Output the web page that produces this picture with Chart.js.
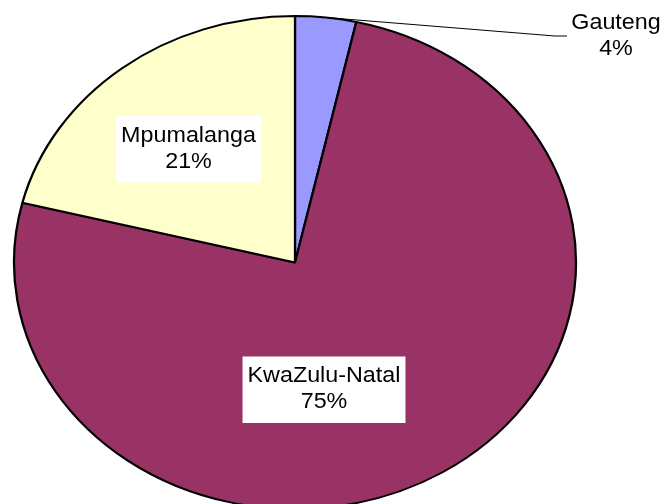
<!DOCTYPE html>
<html><head><meta charset="utf-8">
<script src="https://cdn.jsdelivr.net/npm/chart.js@4"></script>
<style>html,body{margin:0;padding:0;background:#fff;overflow:hidden}canvas{display:block}</style>
</head><body>
<canvas id="c" width="665" height="504"></canvas>
<script>
const categories = ["Gauteng", "KwaZulu-Natal", "Mpumalanga"];
const shares = [3.5, 75.4, 21.1];
const percentLabels = ["4%", "75%", "21%"];
const colors = ["#9999FF", "#993366", "#FFFFCC"];

const SX = 281 / 246.5;   // horizontal stretch of the pie into an ellipse
const TSX = 1.06;         // slight horizontal stretch of label text
const FONT = '22px "Liberation Sans", Arial, sans-serif';

// label placement (relative to pie centre)
const placement = [
  {dx: 321, dy: -234, box: false, leader: true},
  {dx: 29, dy: 119.5, box: true},
  {dx: -106.5, dy: -121, box: true}
];

const ellipsePlugin = {
  id: 'ellipse',
  beforeDatasetsDraw(chart) {
    const a = chart.getDatasetMeta(0).data[0];
    const ctx = chart.ctx;
    ctx.save();
    ctx.translate(a.x, 0);
    ctx.scale(SX, 1);
    ctx.translate(-a.x, 0);
  },
  afterDatasetsDraw(chart) { chart.ctx.restore(); }
};

const labelPlugin = {
  id: 'labels',
  afterDraw(chart) {
    const ctx = chart.ctx;
    const arcs = chart.getDatasetMeta(0).data;
    ctx.save();
    ctx.font = FONT;
    ctx.textAlign = 'center';
    ctx.textBaseline = 'alphabetic';
    arcs.forEach((arc, i) => {
      const p = placement[i];
      const cx = arc.x + p.dx;
      const b1 = arc.y + p.dy;
      const b2 = b1 + 26;
      const lines = [categories[i], percentLabels[i]];
      if (p.leader) {
        const mid = (arc.startAngle + arc.endAngle) / 2;
        const r = arc.outerRadius;
        ctx.beginPath();
        ctx.moveTo(arc.x + SX * r * Math.cos(mid), arc.y + r * Math.sin(mid));
        ctx.lineTo(arc.x + 260, arc.y - 226.5);
        ctx.lineTo(arc.x + 272, arc.y - 226.5);
        ctx.strokeStyle = '#000';
        ctx.lineWidth = 1;
        ctx.stroke();
      }
      if (p.box) {
        const w = Math.max(...lines.map(t => ctx.measureText(t).width)) * TSX + 10;
        ctx.fillStyle = '#fff';
        ctx.fillRect(cx - w / 2, b1 - 25.5, w, (b2 + 15) - (b1 - 25.5));
      }
      ctx.fillStyle = '#000';
      [b1, b2].forEach((b, k) => {
        ctx.save();
        ctx.translate(cx, b);
        ctx.scale(TSX, 1);
        ctx.fillText(lines[k], 0, 0);
        ctx.restore();
      });
    });
    ctx.restore();
  }
};

new Chart(document.getElementById('c'), {
  type: 'pie',
  data: {
    labels: categories,
    datasets: [{
      data: shares,
      backgroundColor: colors,
      borderColor: '#000',
      borderWidth: 2,
      clip: false
    }]
  },
  options: {
    responsive: false,
    animation: false,
    radius: 246.5,
    layout: {padding: {left: 0, right: 75, top: 21, bottom: 0}},
    plugins: {legend: {display: false}, tooltip: {enabled: false}}
  },
  plugins: [ellipsePlugin, labelPlugin]
});
</script>
</body></html>
